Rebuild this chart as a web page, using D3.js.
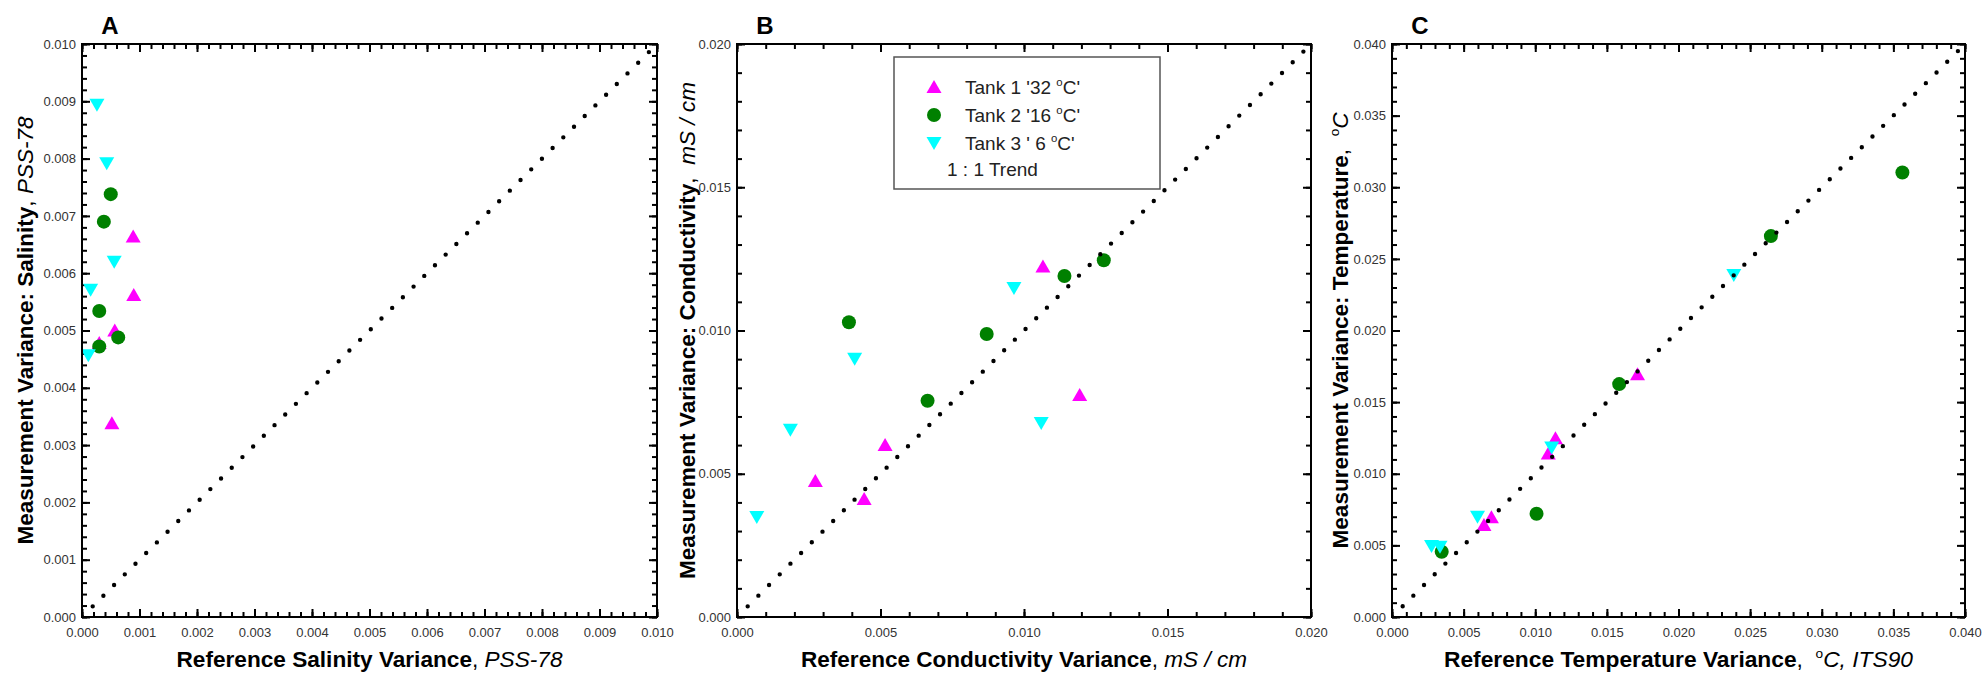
<!DOCTYPE html>
<html>
<head>
<meta charset="utf-8">
<title>Measurement vs reference variance</title>
<script src="https://cdn.jsdelivr.net/npm/d3@7"></script>
<style>
  body { margin: 0; background: #fff; }
  svg { display: block; font-family: "Liberation Sans", Arial, sans-serif; }
  text { white-space: pre; }
</style>
</head>
<body>
<svg id="chart" width="1983" height="674"></svg>
<script>
var salinityTank1 = [[0.00089, 0.00664], [0.00090, 0.00562], [0.00057, 0.00500], [0.00030, 0.00478], [0.00052, 0.00338]];
var salinityTank2 = [[0.00050, 0.00738], [0.00038, 0.00690], [0.00030, 0.00534], [0.00030, 0.00472], [0.00063, 0.00488]];
var salinityTank3 = [[0.00026, 0.00894], [0.00043, 0.00792], [0.00056, 0.00620], [0.00015, 0.00571], [0.00011, 0.00457]];

var conductTank1 = [[0.01066, 0.01223], [0.01194, 0.00775], [0.00516, 0.00600], [0.00273, 0.00475], [0.00443, 0.00412]];
var conductTank2 = [[0.00390, 0.01029], [0.00870, 0.00988], [0.01141, 0.01190], [0.01278, 0.01245], [0.00664, 0.00755]];
var conductTank3 = [[0.00965, 0.01148], [0.00410, 0.00901], [0.00186, 0.00654], [0.00069, 0.00349], [0.01060, 0.00677]];

var tempTank1 = [[0.01714, 0.01694], [0.01141, 0.01247], [0.01091, 0.01142], [0.00694, 0.00696], [0.00642, 0.00642]];
var tempTank2 = [[0.03563, 0.03103], [0.02645, 0.02659], [0.01586, 0.01626], [0.01009, 0.00721], [0.00347, 0.00456]];
var tempTank3 = [[0.02386, 0.02387], [0.01115, 0.01184], [0.00597, 0.00700], [0.00276, 0.00495], [0.00335, 0.00490]];

var tankNames = ["Tank 1 '32 ", "Tank 2 '16 ", "Tank 3 ' 6 "];
var trendName = "1 : 1 Trend";
var panelLetters = ["A", "B", "C"];
var axisMax = [0.010, 0.020, 0.040];
var majorStep = [0.001, 0.005, 0.005];
var minorStep = [0.0002, 0.001, 0.001];

var W = 1983, H = 674;
var top0 = 44, bottom0 = 617;
var colors = ["#ff00ff", "#008000", "#00ffff"];

// bbox-centred marker shapes
var shapes = [
  "M0,-7L7.5,6L-7.5,6Z",
  d3.symbol(d3.symbolCircle, Math.PI * 7 * 7)(),
  "M0,7L7.5,-6L-7.5,-6Z"
];

var panels = [
  {series: [salinityTank1, salinityTank2, salinityTank3], left: 82, right: 657,
   yTitleX: 33, xTitleW: 386, yTitleW: 428,
   xTitle: [["Reference Salinity Variance", "b"], [", ", ""], ["PSS-78", "i"]],
   yTitle: [["Measurement Variance: Salinity", "b"], [", ", ""], ["PSS-78", "i"]]},
  {series: [conductTank1, conductTank2, conductTank3], left: 737, right: 1311,
   yTitleX: 695, xTitleW: 446, yTitleW: 497,
   xTitle: [["Reference Conductivity Variance", "b"], [", ", ""], ["mS / cm", "i"]],
   yTitle: [["Measurement Variance: Conductivity", "b"], [",  ", ""], ["mS / cm", "i"]]},
  {series: [tempTank1, tempTank2, tempTank3], left: 1392, right: 1965,
   yTitleX: 1348, xTitleW: 469, yTitleW: 436,
   xTitle: [["Reference Temperature Variance", "b"], [",  ", ""], ["o", "sup"], ["C, ITS90", "i"]],
   yTitle: [["Measurement Variance: Temperature", "b"], [",  ", ""], ["o", "sup"], ["C", "i"]]}
];

var svg = d3.select("#chart");
svg.append("rect").attr("width", W).attr("height", H).attr("fill", "#fff");

function richText(sel, parts, fs) {
  var up = false;
  parts.forEach(function(p) {
    var t = sel.append("tspan").text(p[0]);
    if (p[1] === "b") t.attr("font-weight", "bold");
    if (p[1] === "i") t.attr("font-style", "italic");
    if (p[1] === "sup") {
      t.attr("font-size", fs * 0.6).attr("dy", -fs * 0.42);
      up = true;
    } else if (up) {
      t.attr("dy", fs * 0.42);
      up = false;
    }
  });
  return sel;
}

var fmt = d3.format(".3f");

panels.forEach(function(p, i) {
  var w = p.right - p.left, h = bottom0 - top0;
  var x = d3.scaleLinear().domain([0, axisMax[i]]).range([0, w]);
  var y = d3.scaleLinear().domain([0, axisMax[i]]).range([h, 0]);
  var majors = d3.range(0, axisMax[i] + majorStep[i] / 2, majorStep[i]);
  var minors = d3.range(0, axisMax[i] + minorStep[i] / 2, minorStep[i]);

  var g = svg.append("g").attr("transform", "translate(" + p.left + "," + top0 + ")");

  g.append("clipPath").attr("id", "clip" + i)
    .append("rect").attr("width", w).attr("height", h);

  // axes on all four sides, ticks pointing inward
  var sides = [
    [d3.axisBottom(x), [0, h], true],
    [d3.axisTop(x), [0, 0], false],
    [d3.axisLeft(y), [0, 0], true],
    [d3.axisRight(y), [w, 0], false]
  ];
  sides.forEach(function(s) {
    var minorAx = s[0].tickValues(minors).tickSize(-5).tickFormat("");
    var gm = g.append("g").attr("transform", "translate(" + s[1] + ")").call(minorAx);
    gm.select(".domain").remove();
    gm.selectAll("line").attr("stroke-width", 2);

    var ax = s[0].tickValues(majors).tickSize(-8).tickPadding(s === sides[0] ? 11 : 6)
      .tickFormat(s[2] ? fmt : "");
    var ga = g.append("g").attr("transform", "translate(" + s[1] + ")").call(ax);
    ga.select(".domain").remove();
    ga.selectAll("line").attr("stroke-width", 2);
    ga.attr("font-family", null).attr("font-size", 13);
    ga.selectAll("text").attr("fill", "#333");
  });

  // data points: tank 1, tank 2, tank 3
  p.series.forEach(function(data, k) {
    g.append("g").selectAll("path").data(data).join("path")
      .attr("d", shapes[k])
      .attr("fill", colors[k])
      .attr("transform", function(d) { return "translate(" + x(d[0]) + "," + y(d[1]) + ")"; });
  });

  // 1:1 trend, dotted
  var line = d3.line().x(function(d) { return x(d); }).y(function(d) { return y(d); });
  g.append("path")
    .attr("d", line([0, axisMax[i]]))
    .attr("clip-path", "url(#clip" + i + ")")
    .attr("fill", "none")
    .attr("stroke", "#000")
    .attr("stroke-width", 4.4)
    .attr("stroke-linecap", "round")
    .attr("stroke-dasharray", "0 15.1");

  // frame
  g.append("rect").attr("width", w).attr("height", h)
    .attr("fill", "none").attr("stroke", "#000").attr("stroke-width", 2);

  // panel letter
  svg.append("text").attr("x", p.left + 28).attr("y", 34)
    .attr("text-anchor", "middle").attr("font-size", 24).attr("font-weight", "bold")
    .text(panelLetters[i]);

  // axis titles
  richText(svg.append("text"), p.xTitle, 22)
    .attr("x", (p.left + p.right) / 2).attr("y", 667)
    .attr("text-anchor", "middle").attr("font-size", 22)
    .attr("textLength", p.xTitleW).attr("lengthAdjust", "spacingAndGlyphs");

  richText(svg.append("text"), p.yTitle, 22)
    .attr("transform", "translate(" + p.yTitleX + "," + ((top0 + bottom0) / 2) + ") rotate(-90)")
    .attr("text-anchor", "middle").attr("font-size", 22)
    .attr("textLength", p.yTitleW).attr("lengthAdjust", "spacingAndGlyphs");
});

// legend (panel B)
var lg = svg.append("g").attr("transform", "translate(894,57)");
lg.append("rect").attr("width", 266).attr("height", 132)
  .attr("fill", "#fff").attr("stroke", "#555").attr("stroke-width", 1.5);
tankNames.forEach(function(name, k) {
  lg.append("path").attr("d", shapes[k]).attr("fill", colors[k])
    .attr("transform", "translate(40," + (30 + k * 28) + ")");
  richText(lg.append("text"), [[name, ""], ["o", "sup"], ["C'", ""]], 19)
    .attr("x", 71).attr("y", 37 + k * 28).attr("font-size", 19).attr("fill", "#222");
});
lg.append("text").attr("x", 53).attr("y", 119).attr("font-size", 19).attr("fill", "#222")
  .text(trendName);
</script>
</body>
</html>
